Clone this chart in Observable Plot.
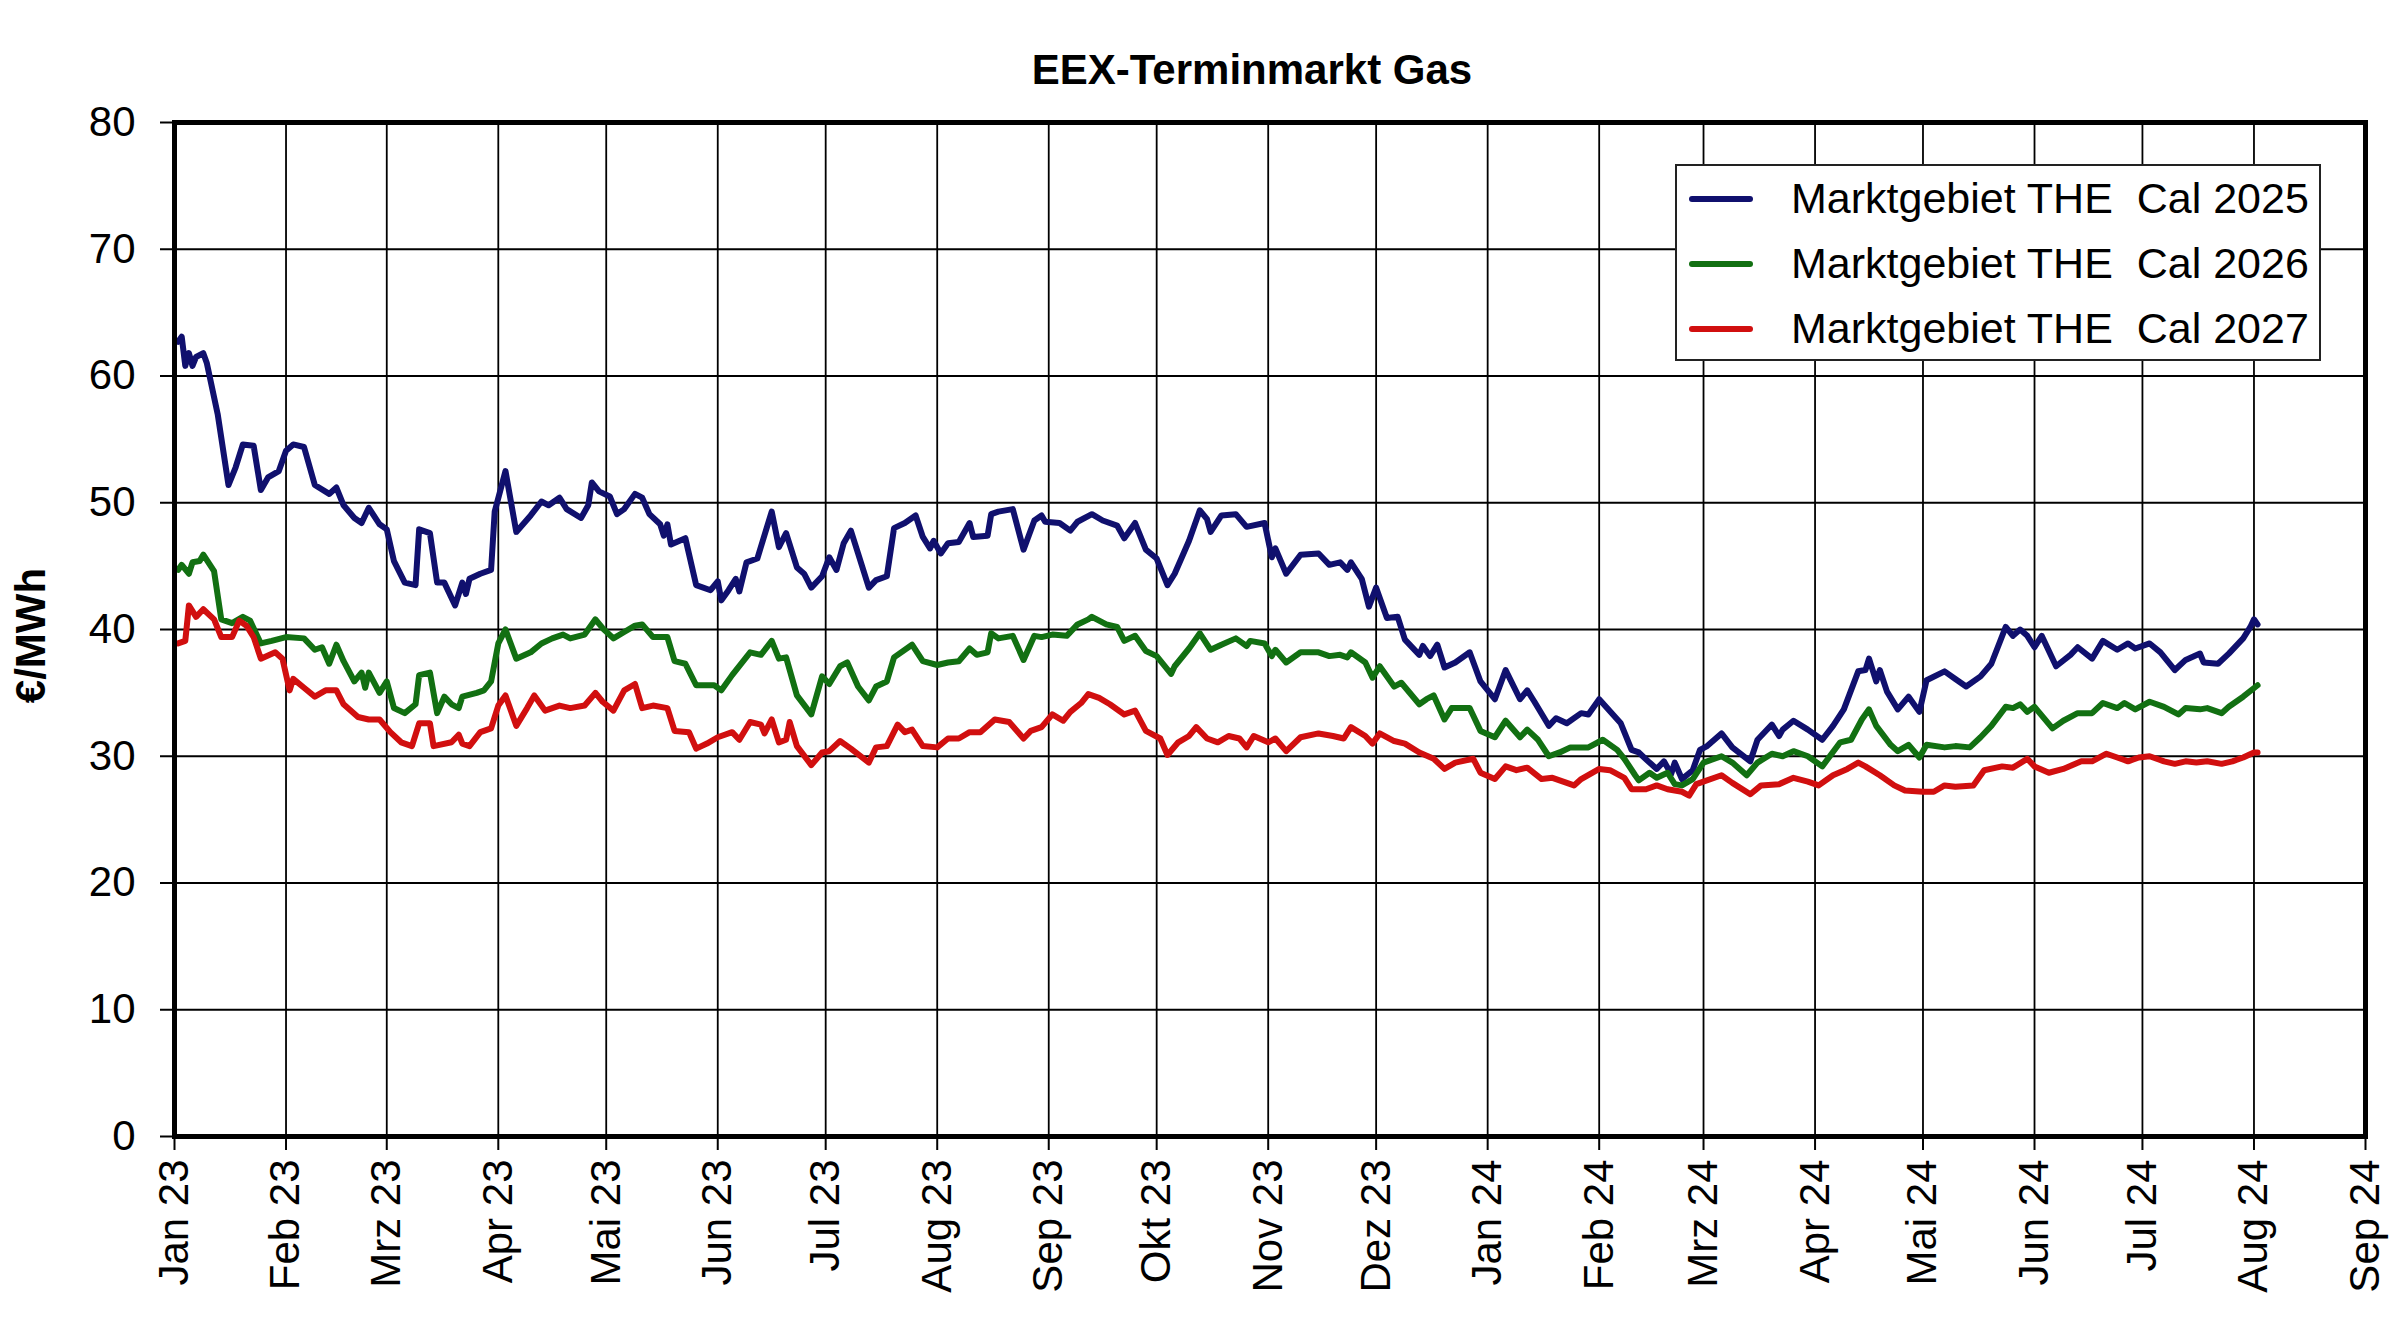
<!DOCTYPE html>
<html>
<head>
<meta charset="utf-8">
<script src="https://cdn.jsdelivr.net/npm/d3@7"></script>
<script src="https://cdn.jsdelivr.net/npm/@observablehq/plot@0.6"></script>
<style>
  html, body { margin: 0; padding: 0; background: white; overflow: hidden; }
  #wrap { position: relative; width: 2400px; height: 1323px; font-family: 'Liberation Sans', Arial, sans-serif; }
  #chart { position: absolute; left: 0; top: 0; }
  #title { position: absolute; top: 49px; left: 1252px; transform: translateX(-50%); font-weight: bold; font-size: 42px; line-height: 42px; white-space: nowrap; color: #000; }
  #legend { position: absolute; left: 1675px; top: 164px; width: 646px; height: 197px; box-sizing: border-box; border: 2px solid #222; background: white; }
  .row { display: flex; align-items: center; height: 65px; }
  .sw { display: inline-block; width: 64px; height: 6px; margin-left: 12px; border-radius: 3px; }
  .lt { margin-left: 38px; font-size: 43px; white-space: pre; color: #000; }
</style>
</head>
<body>
<div id="wrap">
  <div id="chart"></div>
  <div id="title"></div>
  <div id="legend"></div>
</div>
<script>
const chartTitle = "EEX-Terminmarkt Gas";
const yLabel = "€/MWh";
const monthNames = ["Jan","Feb","Mrz","Apr","Mai","Jun","Jul","Aug","Sep","Okt","Nov","Dez"];
const yTicks = [0, 10, 20, 30, 40, 50, 60, 70, 80];
const xStart = "2023-01-01";
const xEnd = "2024-09-01";
const seriesNames = ["Marktgebiet THE  Cal 2025", "Marktgebiet THE  Cal 2026", "Marktgebiet THE  Cal 2027"];
const seriesColors = ["#10106e", "#127012", "#d10f0f"];

const cal2025 = [["2023-01-02",62.7],["2023-01-03",63.1],["2023-01-04",60.8],["2023-01-05",61.8],["2023-01-06",60.8],["2023-01-07",61.5],["2023-01-09",61.8],["2023-01-10",61.0],["2023-01-13",57.0],["2023-01-16",51.4],["2023-01-18",52.8],["2023-01-20",54.6],["2023-01-23",54.5],["2023-01-25",51.0],["2023-01-27",52.0],["2023-01-30",52.5],["2023-02-01",54.1],["2023-02-03",54.6],["2023-02-06",54.4],["2023-02-09",51.4],["2023-02-13",50.7],["2023-02-15",51.2],["2023-02-17",49.8],["2023-02-20",48.8],["2023-02-22",48.4],["2023-02-24",49.6],["2023-02-27",48.3],["2023-03-01",47.9],["2023-03-03",45.4],["2023-03-06",43.7],["2023-03-09",43.5],["2023-03-10",47.9],["2023-03-13",47.6],["2023-03-15",43.7],["2023-03-17",43.7],["2023-03-20",41.9],["2023-03-22",43.7],["2023-03-23",42.8],["2023-03-24",44.0],["2023-03-27",44.4],["2023-03-30",44.7],["2023-03-31",49.3],["2023-04-03",52.5],["2023-04-06",47.7],["2023-04-10",49.0],["2023-04-13",50.1],["2023-04-15",49.8],["2023-04-18",50.4],["2023-04-20",49.5],["2023-04-24",48.8],["2023-04-26",49.8],["2023-04-27",51.6],["2023-04-29",50.9],["2023-05-02",50.5],["2023-05-04",49.1],["2023-05-06",49.5],["2023-05-09",50.7],["2023-05-11",50.4],["2023-05-13",49.1],["2023-05-16",48.3],["2023-05-17",47.4],["2023-05-18",48.3],["2023-05-19",46.7],["2023-05-23",47.2],["2023-05-26",43.5],["2023-05-30",43.1],["2023-06-01",43.8],["2023-06-02",42.3],["2023-06-04",43.1],["2023-06-06",44.0],["2023-06-07",43.0],["2023-06-09",45.3],["2023-06-12",45.6],["2023-06-16",49.3],["2023-06-18",46.5],["2023-06-20",47.6],["2023-06-23",44.9],["2023-06-25",44.4],["2023-06-27",43.3],["2023-06-30",44.2],["2023-07-02",45.7],["2023-07-04",44.7],["2023-07-06",46.8],["2023-07-08",47.8],["2023-07-10",46.0],["2023-07-13",43.3],["2023-07-15",43.9],["2023-07-18",44.2],["2023-07-20",48.0],["2023-07-23",48.4],["2023-07-26",49.0],["2023-07-28",47.3],["2023-07-30",46.4],["2023-07-31",47.0],["2023-08-02",46.0],["2023-08-04",46.8],["2023-08-07",46.9],["2023-08-10",48.4],["2023-08-11",47.3],["2023-08-15",47.4],["2023-08-16",49.1],["2023-08-18",49.3],["2023-08-22",49.5],["2023-08-25",46.3],["2023-08-28",48.6],["2023-08-30",49.0],["2023-08-31",48.5],["2023-09-04",48.4],["2023-09-07",47.8],["2023-09-09",48.5],["2023-09-13",49.1],["2023-09-16",48.6],["2023-09-20",48.2],["2023-09-22",47.2],["2023-09-25",48.4],["2023-09-28",46.3],["2023-10-01",45.6],["2023-10-04",43.5],["2023-10-06",44.4],["2023-10-10",47.0],["2023-10-13",49.4],["2023-10-15",48.7],["2023-10-16",47.7],["2023-10-19",49.0],["2023-10-23",49.1],["2023-10-26",48.1],["2023-10-31",48.4],["2023-11-02",45.7],["2023-11-03",46.4],["2023-11-06",44.4],["2023-11-10",45.9],["2023-11-15",46.0],["2023-11-18",45.1],["2023-11-21",45.3],["2023-11-23",44.7],["2023-11-24",45.3],["2023-11-27",44.0],["2023-11-29",41.8],["2023-12-01",43.3],["2023-12-04",40.9],["2023-12-07",41.0],["2023-12-09",39.2],["2023-12-13",38.0],["2023-12-14",38.7],["2023-12-16",37.9],["2023-12-18",38.8],["2023-12-20",37.0],["2023-12-23",37.4],["2023-12-27",38.2],["2023-12-30",35.9],["2024-01-03",34.5],["2024-01-06",36.8],["2024-01-10",34.5],["2024-01-12",35.2],["2024-01-14",34.3],["2024-01-18",32.4],["2024-01-20",33.0],["2024-01-23",32.6],["2024-01-27",33.4],["2024-01-29",33.3],["2024-02-01",34.5],["2024-02-07",32.6],["2024-02-10",30.5],["2024-02-12",30.3],["2024-02-15",29.5],["2024-02-17",29.0],["2024-02-19",29.6],["2024-02-21",28.6],["2024-02-22",29.5],["2024-02-24",28.2],["2024-02-27",28.9],["2024-02-29",30.5],["2024-03-02",30.8],["2024-03-06",31.8],["2024-03-09",30.7],["2024-03-14",29.6],["2024-03-16",31.3],["2024-03-20",32.5],["2024-03-22",31.6],["2024-03-23",32.1],["2024-03-26",32.8],["2024-03-30",32.1],["2024-04-03",31.3],["2024-04-06",32.4],["2024-04-09",33.7],["2024-04-13",36.7],["2024-04-15",36.8],["2024-04-16",37.7],["2024-04-18",35.9],["2024-04-19",36.8],["2024-04-21",35.1],["2024-04-24",33.7],["2024-04-27",34.7],["2024-04-30",33.5],["2024-05-02",36.0],["2024-05-07",36.7],["2024-05-10",36.1],["2024-05-13",35.5],["2024-05-17",36.3],["2024-05-20",37.3],["2024-05-24",40.2],["2024-05-26",39.5],["2024-05-28",40.0],["2024-05-30",39.5],["2024-06-01",38.6],["2024-06-03",39.5],["2024-06-07",37.1],["2024-06-11",38.0],["2024-06-13",38.6],["2024-06-17",37.7],["2024-06-20",39.1],["2024-06-24",38.4],["2024-06-27",38.9],["2024-06-29",38.5],["2024-07-03",38.9],["2024-07-06",38.2],["2024-07-10",36.8],["2024-07-13",37.6],["2024-07-17",38.1],["2024-07-18",37.4],["2024-07-22",37.3],["2024-07-25",38.1],["2024-07-29",39.3],["2024-07-31",40.2],["2024-08-01",40.8],["2024-08-02",40.4]];

const cal2026 = [["2023-01-02",44.7],["2023-01-03",45.1],["2023-01-05",44.4],["2023-01-06",45.3],["2023-01-08",45.4],["2023-01-09",45.9],["2023-01-12",44.6],["2023-01-14",40.8],["2023-01-17",40.5],["2023-01-20",41.0],["2023-01-22",40.7],["2023-01-25",38.9],["2023-01-28",39.1],["2023-02-01",39.4],["2023-02-06",39.3],["2023-02-09",38.4],["2023-02-11",38.6],["2023-02-13",37.3],["2023-02-15",38.8],["2023-02-17",37.5],["2023-02-20",35.9],["2023-02-22",36.6],["2023-02-23",35.4],["2023-02-24",36.6],["2023-02-27",35.0],["2023-03-01",35.9],["2023-03-03",33.8],["2023-03-06",33.4],["2023-03-09",34.1],["2023-03-10",36.4],["2023-03-13",36.6],["2023-03-15",33.4],["2023-03-17",34.7],["2023-03-19",34.1],["2023-03-21",33.8],["2023-03-22",34.7],["2023-03-26",35.0],["2023-03-28",35.2],["2023-03-30",35.9],["2023-04-01",38.9],["2023-04-03",40.0],["2023-04-06",37.7],["2023-04-10",38.2],["2023-04-13",38.9],["2023-04-16",39.3],["2023-04-19",39.6],["2023-04-21",39.3],["2023-04-25",39.6],["2023-04-28",40.8],["2023-04-30",40.1],["2023-05-03",39.3],["2023-05-06",39.8],["2023-05-09",40.3],["2023-05-11",40.4],["2023-05-14",39.4],["2023-05-18",39.4],["2023-05-20",37.5],["2023-05-23",37.3],["2023-05-26",35.6],["2023-05-31",35.6],["2023-06-02",35.2],["2023-06-05",36.4],["2023-06-10",38.2],["2023-06-13",38.0],["2023-06-16",39.1],["2023-06-18",37.7],["2023-06-20",37.8],["2023-06-23",34.8],["2023-06-27",33.3],["2023-06-30",36.3],["2023-07-02",35.7],["2023-07-05",37.1],["2023-07-07",37.4],["2023-07-10",35.5],["2023-07-13",34.4],["2023-07-15",35.5],["2023-07-18",35.9],["2023-07-20",37.8],["2023-07-25",38.8],["2023-07-28",37.5],["2023-08-01",37.2],["2023-08-04",37.4],["2023-08-07",37.5],["2023-08-10",38.5],["2023-08-12",38.0],["2023-08-15",38.2],["2023-08-16",39.7],["2023-08-18",39.3],["2023-08-22",39.5],["2023-08-25",37.6],["2023-08-28",39.5],["2023-08-30",39.4],["2023-09-02",39.6],["2023-09-06",39.5],["2023-09-09",40.4],["2023-09-12",40.8],["2023-09-13",41.0],["2023-09-17",40.4],["2023-09-20",40.2],["2023-09-22",39.1],["2023-09-25",39.5],["2023-09-28",38.3],["2023-10-01",37.9],["2023-10-05",36.5],["2023-10-06",37.1],["2023-10-10",38.5],["2023-10-13",39.7],["2023-10-16",38.4],["2023-10-19",38.8],["2023-10-23",39.3],["2023-10-26",38.7],["2023-10-27",39.1],["2023-10-31",38.9],["2023-11-02",37.9],["2023-11-03",38.4],["2023-11-06",37.4],["2023-11-10",38.2],["2023-11-15",38.2],["2023-11-18",37.9],["2023-11-21",38.0],["2023-11-23",37.8],["2023-11-24",38.2],["2023-11-28",37.4],["2023-11-30",36.2],["2023-12-02",37.1],["2023-12-06",35.5],["2023-12-08",35.8],["2023-12-13",34.1],["2023-12-15",34.5],["2023-12-17",34.8],["2023-12-20",32.9],["2023-12-22",33.8],["2023-12-27",33.8],["2023-12-30",32.0],["2024-01-03",31.5],["2024-01-06",32.8],["2024-01-10",31.5],["2024-01-12",32.1],["2024-01-15",31.3],["2024-01-18",30.0],["2024-01-21",30.3],["2024-01-24",30.7],["2024-01-29",30.7],["2024-02-02",31.3],["2024-02-06",30.5],["2024-02-08",29.8],["2024-02-11",28.5],["2024-02-12",28.1],["2024-02-15",28.7],["2024-02-17",28.3],["2024-02-20",28.7],["2024-02-22",27.8],["2024-02-24",27.7],["2024-02-27",28.2],["2024-03-01",29.5],["2024-03-06",30.0],["2024-03-09",29.5],["2024-03-13",28.5],["2024-03-16",29.5],["2024-03-20",30.2],["2024-03-23",30.0],["2024-03-26",30.4],["2024-03-30",30.0],["2024-04-03",29.2],["2024-04-08",31.1],["2024-04-11",31.3],["2024-04-14",32.9],["2024-04-16",33.7],["2024-04-18",32.4],["2024-04-22",30.9],["2024-04-24",30.4],["2024-04-27",30.9],["2024-04-30",29.9],["2024-05-02",30.9],["2024-05-07",30.7],["2024-05-10",30.8],["2024-05-14",30.7],["2024-05-17",31.5],["2024-05-20",32.4],["2024-05-24",33.9],["2024-05-26",33.8],["2024-05-28",34.1],["2024-05-30",33.5],["2024-06-01",33.9],["2024-06-06",32.2],["2024-06-09",32.8],["2024-06-13",33.4],["2024-06-17",33.4],["2024-06-20",34.2],["2024-06-24",33.8],["2024-06-26",34.2],["2024-06-29",33.7],["2024-07-03",34.3],["2024-07-07",33.9],["2024-07-11",33.3],["2024-07-13",33.8],["2024-07-17",33.7],["2024-07-19",33.8],["2024-07-23",33.4],["2024-07-25",33.9],["2024-07-29",34.7],["2024-08-02",35.6]];

const cal2027 = [["2023-01-02",38.9],["2023-01-04",39.1],["2023-01-05",41.9],["2023-01-07",41.0],["2023-01-09",41.6],["2023-01-12",40.8],["2023-01-14",39.4],["2023-01-17",39.4],["2023-01-19",40.7],["2023-01-21",40.3],["2023-01-23",39.4],["2023-01-25",37.7],["2023-01-29",38.2],["2023-01-31",37.7],["2023-02-02",35.2],["2023-02-03",36.1],["2023-02-06",35.4],["2023-02-09",34.7],["2023-02-12",35.2],["2023-02-15",35.2],["2023-02-17",34.1],["2023-02-21",33.1],["2023-02-24",32.9],["2023-02-27",32.9],["2023-03-02",31.9],["2023-03-05",31.1],["2023-03-08",30.8],["2023-03-10",32.6],["2023-03-13",32.6],["2023-03-14",30.8],["2023-03-19",31.1],["2023-03-21",31.7],["2023-03-22",31.0],["2023-03-24",30.8],["2023-03-27",31.9],["2023-03-30",32.2],["2023-04-01",34.0],["2023-04-03",34.8],["2023-04-06",32.4],["2023-04-09",33.8],["2023-04-11",34.8],["2023-04-14",33.6],["2023-04-18",34.0],["2023-04-21",33.8],["2023-04-25",34.0],["2023-04-28",35.0],["2023-04-30",34.3],["2023-05-03",33.6],["2023-05-06",35.2],["2023-05-09",35.7],["2023-05-11",33.8],["2023-05-14",34.0],["2023-05-18",33.8],["2023-05-20",32.0],["2023-05-24",31.9],["2023-05-26",30.6],["2023-05-29",31.0],["2023-06-01",31.5],["2023-06-05",31.9],["2023-06-07",31.3],["2023-06-10",32.7],["2023-06-13",32.5],["2023-06-14",31.8],["2023-06-16",32.9],["2023-06-18",31.1],["2023-06-20",31.3],["2023-06-21",32.7],["2023-06-23",30.8],["2023-06-27",29.3],["2023-06-30",30.3],["2023-07-02",30.4],["2023-07-05",31.2],["2023-07-08",30.6],["2023-07-13",29.5],["2023-07-15",30.7],["2023-07-18",30.8],["2023-07-21",32.5],["2023-07-23",31.9],["2023-07-25",32.1],["2023-07-28",30.8],["2023-08-01",30.7],["2023-08-04",31.4],["2023-08-07",31.4],["2023-08-10",31.9],["2023-08-13",31.9],["2023-08-17",32.9],["2023-08-21",32.7],["2023-08-25",31.4],["2023-08-27",32.0],["2023-08-30",32.3],["2023-09-02",33.3],["2023-09-05",32.8],["2023-09-07",33.5],["2023-09-10",34.2],["2023-09-12",34.9],["2023-09-15",34.6],["2023-09-18",34.1],["2023-09-22",33.3],["2023-09-25",33.6],["2023-09-28",32.0],["2023-10-02",31.4],["2023-10-04",30.1],["2023-10-07",31.1],["2023-10-10",31.6],["2023-10-12",32.3],["2023-10-15",31.4],["2023-10-18",31.1],["2023-10-21",31.6],["2023-10-24",31.4],["2023-10-26",30.7],["2023-10-28",31.6],["2023-11-01",31.1],["2023-11-03",31.4],["2023-11-06",30.4],["2023-11-10",31.5],["2023-11-15",31.8],["2023-11-19",31.6],["2023-11-22",31.4],["2023-11-24",32.3],["2023-11-28",31.6],["2023-11-30",31.0],["2023-12-02",31.8],["2023-12-06",31.2],["2023-12-09",31.0],["2023-12-13",30.3],["2023-12-17",29.8],["2023-12-20",29.0],["2023-12-23",29.5],["2023-12-28",29.8],["2023-12-30",28.7],["2024-01-03",28.2],["2024-01-06",29.2],["2024-01-09",28.9],["2024-01-12",29.1],["2024-01-16",28.2],["2024-01-19",28.3],["2024-01-25",27.7],["2024-01-27",28.2],["2024-02-01",29.0],["2024-02-04",28.9],["2024-02-08",28.3],["2024-02-10",27.4],["2024-02-14",27.4],["2024-02-17",27.7],["2024-02-20",27.4],["2024-02-24",27.2],["2024-02-26",26.9],["2024-02-28",27.8],["2024-03-06",28.5],["2024-03-09",27.9],["2024-03-14",27.0],["2024-03-17",27.7],["2024-03-22",27.8],["2024-03-26",28.3],["2024-03-30",28.0],["2024-04-02",27.7],["2024-04-06",28.5],["2024-04-10",29.0],["2024-04-13",29.5],["2024-04-15",29.2],["2024-04-19",28.5],["2024-04-23",27.7],["2024-04-26",27.3],["2024-05-01",27.2],["2024-05-04",27.2],["2024-05-07",27.7],["2024-05-10",27.6],["2024-05-15",27.7],["2024-05-18",28.9],["2024-05-23",29.2],["2024-05-26",29.1],["2024-05-30",29.8],["2024-06-01",29.2],["2024-06-05",28.7],["2024-06-09",29.0],["2024-06-14",29.6],["2024-06-17",29.6],["2024-06-21",30.2],["2024-06-24",29.9],["2024-06-27",29.6],["2024-06-30",29.9],["2024-07-03",30.0],["2024-07-07",29.6],["2024-07-10",29.4],["2024-07-13",29.6],["2024-07-16",29.5],["2024-07-19",29.6],["2024-07-23",29.4],["2024-07-26",29.6],["2024-07-29",29.9],["2024-08-01",30.3],["2024-08-02",30.3]];

const seriesData = [cal2025, cal2026, cal2027];
const rows = seriesData.flatMap((arr, i) => arr.map(([d, v]) => ({date: new Date(d + "T00:00:00Z"), value: v, series: seriesNames[i]})));
const monthTicks = d3.utcMonth.range(new Date(xStart + "T00:00:00Z"), d3.utcDay.offset(new Date(xEnd + "T00:00:00Z"), 1));
const fmt = d => monthNames[d.getUTCMonth()] + " " + String(d.getUTCFullYear()).slice(2);

const chart = Plot.plot({
  width: 2400,
  height: 1323,
  marginLeft: 174,
  marginRight: 35,
  marginTop: 122,
  marginBottom: 187,
  style: {fontFamily: "'Liberation Sans', Arial, sans-serif", fontSize: "42px", color: "black", background: "white", overflow: "visible"},
  x: {type: "utc", domain: [new Date(xStart + "T00:00:00Z"), new Date(xEnd + "T00:00:00Z")]},
  y: {domain: [0, 80]},
  color: {domain: seriesNames, range: seriesColors},
  marks: [
    Plot.gridX(monthTicks, {stroke: "black", strokeOpacity: 1, strokeWidth: 1.8}),
    Plot.gridY(yTicks, {stroke: "black", strokeOpacity: 1, strokeWidth: 1.8}),
    Plot.line(rows, {x: "date", y: "value", z: "series", stroke: "series", strokeWidth: 6, strokeLinejoin: "round", strokeLinecap: "round"}),
    Plot.frame({stroke: "black", strokeWidth: 5}),
    Plot.axisX(monthTicks, {tickFormat: fmt, tickRotate: -90, tickSize: 14, tickPadding: 9, fontSize: 42, label: null, strokeWidth: 2}),
    Plot.axisY(yTicks, {tickSize: 14, tickPadding: 25, fontSize: 42, label: null, strokeWidth: 2}),
    Plot.text([yLabel], {frameAnchor: "left", textAnchor: "middle", dx: -143, dy: 6, rotate: -90, fontSize: 42, fontWeight: "bold"})
  ]
});
document.getElementById("chart").appendChild(chart);
document.getElementById("title").textContent = chartTitle;

const legend = document.getElementById("legend");
seriesNames.forEach((name, i) => {
  const row = document.createElement("div");
  row.className = "row";
  const sw = document.createElement("span");
  sw.className = "sw";
  sw.style.background = seriesColors[i];
  const lt = document.createElement("span");
  lt.className = "lt";
  lt.textContent = name;
  row.appendChild(sw);
  row.appendChild(lt);
  legend.appendChild(row);
});
</script>
</body>
</html>
